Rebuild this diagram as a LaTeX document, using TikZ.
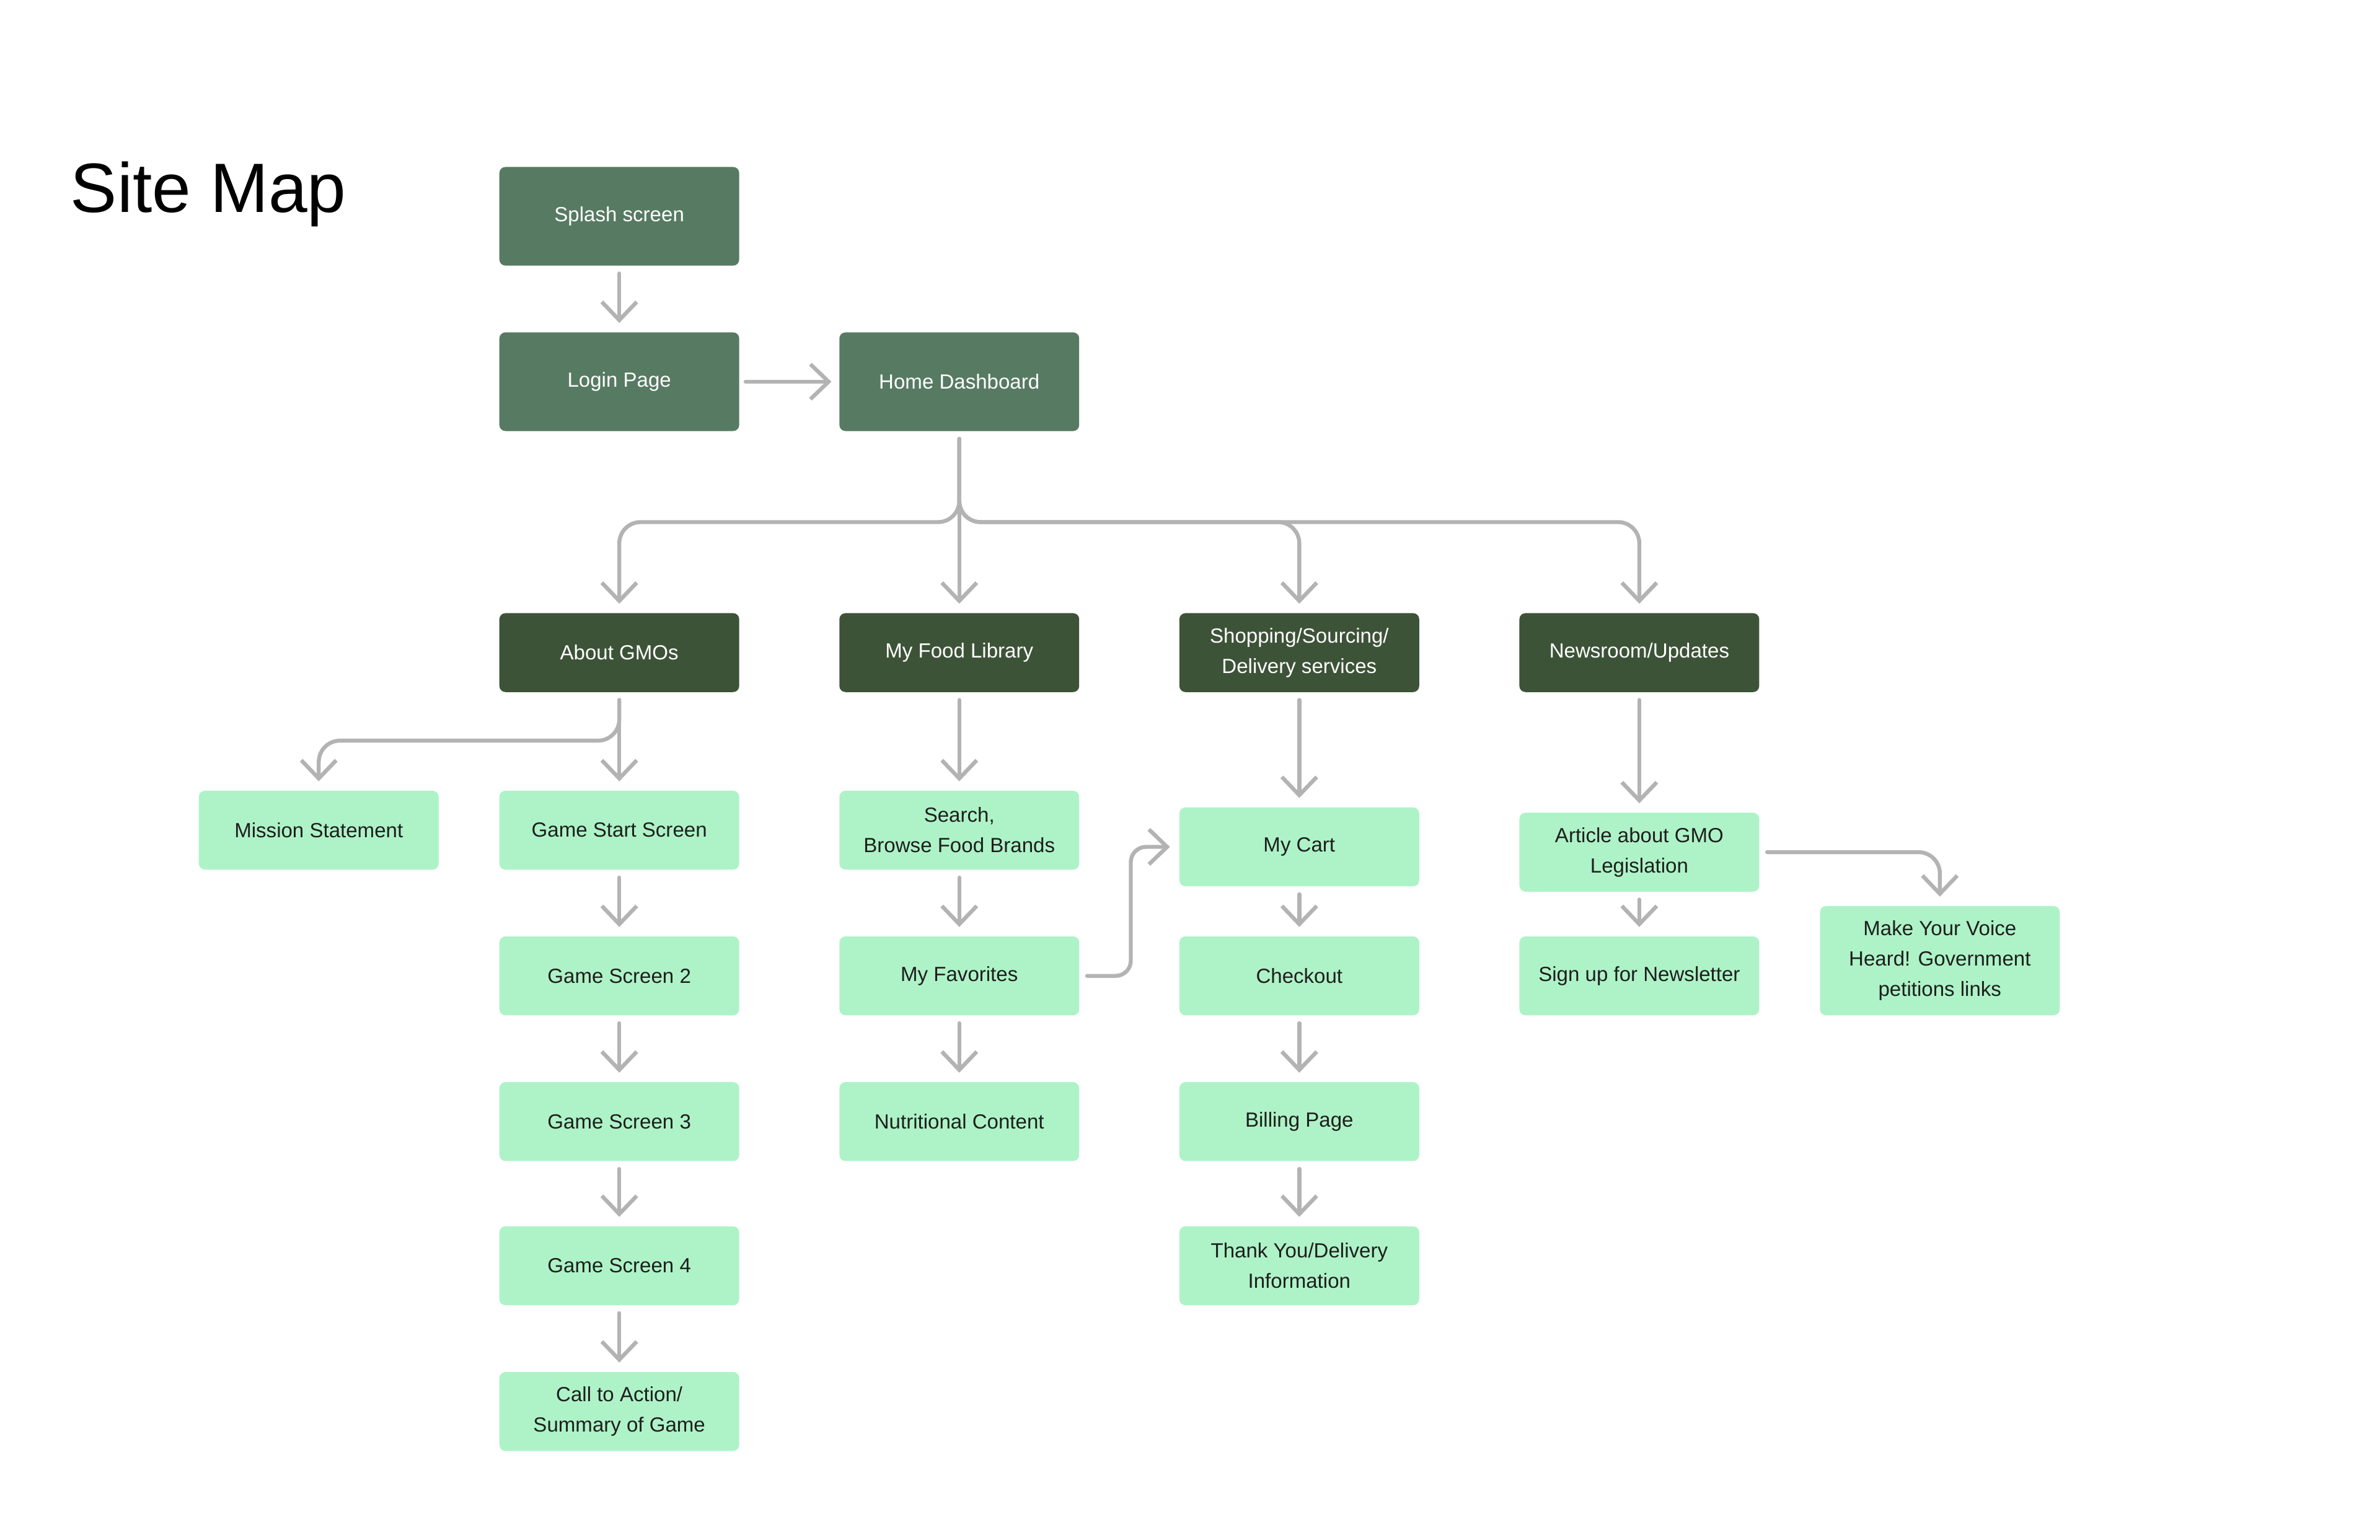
\documentclass[tikz,border=0pt]{standalone}
\usepackage{fontspec}
\setmainfont{Liberation Sans}
\usetikzlibrary{arrows.meta,calc}

\definecolor{topgreen}{HTML}{577A62}
\definecolor{darkgreen}{HTML}{3D5338}
\definecolor{mint}{HTML}{AEF3C7}
\definecolor{linegray}{HTML}{B3B3B3}
\definecolor{ink}{HTML}{1E1E1E}

\tikzset{
  page/.style={rounded corners=4pt, minimum width=158pt, minimum height=52pt, inner sep=0pt, align=center, font=\fontsize{13.5}{20}\selectfont},
  toppage/.style={page, fill=topgreen, text=white, minimum height=65pt},
  mainpage/.style={page, fill=darkgreen, text=white},
  subpage/.style={page, fill=mint, text=ink},
  flow/.style={draw=linegray, line width=2.6pt, line cap=round, shorten <=5pt, shorten >=6pt, -{Straight Barb[length=12pt,width=23pt]}}
}

\begin{document}
\begin{tikzpicture}[x=1pt,y=-1pt]
\useasboundingbox (0,0) rectangle (1568,1014.7);

\node[anchor=base west, font=\fontsize{46}{50}\selectfont] (title) at (43,140) {Site Map};

\node[toppage] (splash) at (408,142.5) {Splash screen};
\node[toppage] (login) at (408,251.5) {Login Page};
\node[toppage] (home) at (632,251.5) {Home Dashboard};

\node[mainpage] (about) at (408,430) {About GMOs};
\node[mainpage] (food) at (632,430) {My Food Library};
\node[mainpage] (shop) at (856,430) {Shopping/Sourcing/\\Delivery services};
\node[mainpage] (news) at (1080,430) {Newsroom/Updates};

%about GMOs column
\node[subpage] (mission) at (210,547) {Mission Statement};
\node[subpage] (gamestart) at (408,547) {Game Start Screen};
\node[subpage] (game2) at (408,643) {Game Screen 2};
\node[subpage] (game3) at (408,739) {Game Screen 3};
\node[subpage] (game4) at (408,834) {Game Screen 4};
\node[subpage] (cta) at (408,930) {Call to Action/\\Summary of Game};

%food library column
\node[subpage] (search) at (632,547) {Search,\\Browse Food Brands};
\node[subpage] (fav) at (632,643) {My Favorites};
\node[subpage] (nutrition) at (632,739) {Nutritional Content};

%shopping column
\node[subpage] (cart) at (856,558) {My Cart};
\node[subpage] (checkout) at (856,643) {Checkout};
\node[subpage] (billing) at (856,739) {Billing Page};
\node[subpage] (thanks) at (856,834) {Thank You/Delivery\\Information};

%newsroom column
\node[subpage] (article) at (1080,561.5) {Article about GMO\\Legislation};
\node[subpage] (signup) at (1080,643) {Sign up for Newsletter};
\node[subpage, minimum height=72pt] (voice) at (1278,633) {Make Your Voice\\Heard! Government\\petitions links};

\coordinate (homebus) at (0,344);
\coordinate (gmobus) at (0,488);
\coordinate (jog) at (745,0);

\draw[flow] (splash) -- (login);
\draw[flow, shorten <=4pt, shorten >=5pt] (login) -- (home);

\draw[flow, rounded corners=14pt] (home.south) |- (homebus -| about.north) -- (about.north);
\draw[flow] (home.south) -- (food.north);
\draw[flow, rounded corners=14pt] (home.south) |- (homebus -| shop.north) -- (shop.north);
\draw[flow, rounded corners=14pt] (home.south) |- (homebus -| news.north) -- (news.north); %widest branch

\draw[flow, rounded corners=14pt] (about.south) |- (gmobus -| mission.north) -- (mission.north);
\draw[flow] (about) -- (gamestart);
\draw[flow] (gamestart) -- (game2);
\draw[flow] (game2) -- (game3);
\draw[flow] (game3) -- (game4);
\draw[flow] (game4) -- (cta);

\draw[flow] (food) -- (search);
\draw[flow] (search) -- (fav);
\draw[flow] (fav) -- (nutrition);
\draw[flow, rounded corners=10pt] (fav.east) -| (jog |- cart.west) -- (cart.west); %favorites to cart

\draw[flow] (shop) -- (cart);
\draw[flow] (cart) -- (checkout);
\draw[flow] (checkout) -- (billing);
\draw[flow] (billing) -- (thanks);

\draw[flow] (news) -- (article);
\draw[flow] (article) -- (signup);
\draw[flow, rounded corners=14pt] (article.east) -| (voice.north);
\end{tikzpicture}
\end{document}
